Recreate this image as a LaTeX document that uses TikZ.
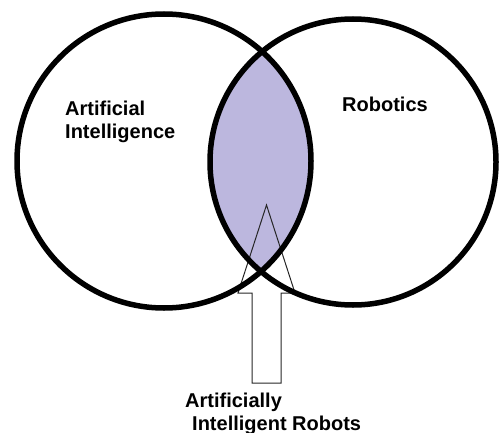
\documentclass[tikz,border=0pt]{standalone}
\usepackage{fontspec}
\setmainfont{Liberation Sans}
\usetikzlibrary{calc}
\definecolor{lens}{RGB}{188,183,222}
\tikzset{lbl/.style={font=\fontsize{20}{24}\selectfont\bfseries, anchor=base west, inner sep=0}}

\begin{document}
\begin{tikzpicture}[x=1pt,y=-1pt]
\def\rl{147};
\def\rr{143};
\useasboundingbox (0,0) rectangle (500,433);
\coordinate (L) at (164,161);
\coordinate (R) at (353,162);
% fill the overlap
\begin{scope}
\clip (L) circle[radius=\rl];
\fill[lens] (R) circle[radius=\rr];
\end{scope}
% draw hollow arrow
\coordinate (T) at (266.5,205);
\draw[line width=1pt,black!85] (T) -- ($(T)+(28.5,88)$) -- ($(T)+(14.5,88)$) -- ($(T)+(14.5,178)$) -- ($(T)+(-14.5,178)$) -- ($(T)+(-14.5,88)$) -- ($(T)+(-28.5,88)$) -- cycle;
% draw circles
\draw[line width=5.5pt] (L) circle[radius=\rl];
\draw[line width=5.5pt] (R) circle[radius=\rr];
% labels
\node[lbl] (ai1) at (65,115) {Artificial};
\node[lbl] (ai2) at (65,139) {Intelligence};
\node[lbl] (rob) at (342,112) {Robotics};
\node[lbl] (air1) at (185,407) {Artificially};
\node[lbl] (air2) at (192,430) {Intelligent Robots};
\end{tikzpicture}
\end{document}
